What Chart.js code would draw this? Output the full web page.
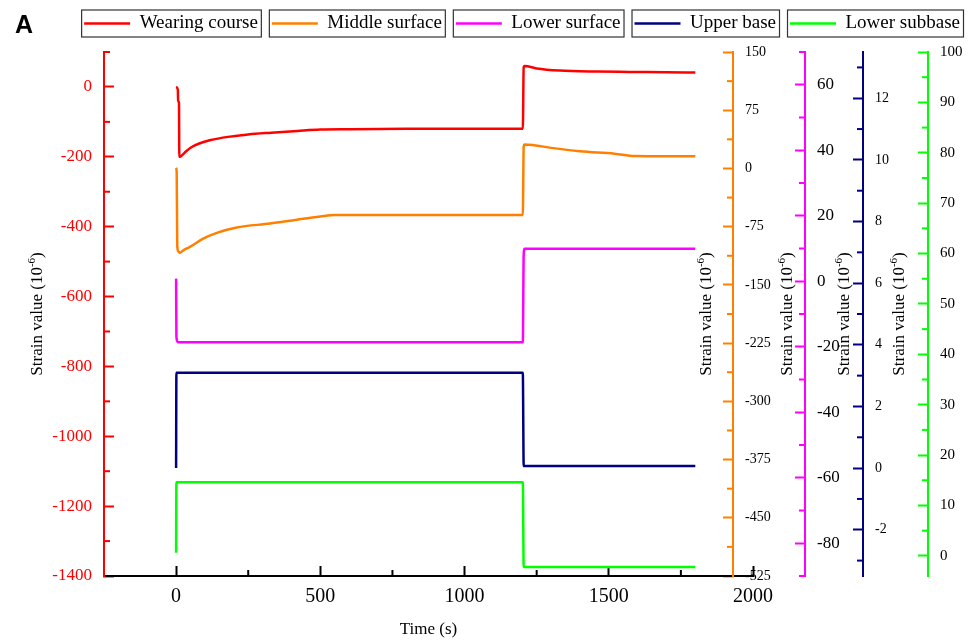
<!DOCTYPE html>
<html>
<head>
<meta charset="utf-8">
<script src="https://cdn.jsdelivr.net/npm/chart.js@4.4.0/dist/chart.umd.min.js"></script>
<style>
html, body { margin: 0; padding: 0; background: #fff; }
#wrap { width: 974px; height: 643px; }
</style>
</head>
<body>
<div id="wrap"><canvas id="chart"></canvas></div>
<script>
// time axis
const xTicks = [0, 500, 1000, 1500, 2000];
const xMinor = [250, 750, 1250, 1750];

// Wearing course (red, left axis)
const wearingT = [0, 6, 7, 10, 11, 14, 20, 35, 50, 80, 120, 180, 250, 330, 420, 500, 600, 800, 1000, 1202, 1205, 1208, 1250, 1330, 1460, 1570, 1700, 1800];
const wearingV = [0, -8, -40, -46, -200, -200, -196, -184, -174, -162, -152, -143, -136, -131, -126, -122, -121, -120, -120, -120, 56, 60, 53, 47, 44, 43, 42, 41];

// Middle surface (orange)
const middleT = [0, 2, 4, 8, 13, 25, 48, 94, 141, 210, 326, 420, 500, 550, 800, 1000, 1202, 1205, 1208, 1240, 1300, 1400, 1520, 1590, 1700, 1800];
const middleV = [1, -4.5, -100, -107, -108.5, -105.5, -101, -90.5, -83, -76, -71, -66, -62, -60, -60, -60, -60, 28, 31, 30, 26.5, 22, 19, 16, 15.7, 15.7];

// Lower surface (magenta)
const lowerSurfT = [0, 1, 6, 1202, 1205, 1208, 1800];
const lowerSurfV = [0.8, -17, -18.6, -18.6, 8, 9.9, 9.9];

// Upper base (navy)
const upperBaseT = [0, 1, 1202, 1205, 1800];
const upperBaseV = [0, 3.09, 3.09, 0.07, 0.07];

// Lower subbase (green)
const subbaseT = [0, 1, 1202, 1205, 1800];
const subbaseV = [0.6, 14.6, 14.6, -2.2, -2.2];

// axis ticks
const redTicks = [-1400, -1200, -1000, -800, -600, -400, -200, 0];
const redMinor = [-1300, -1100, -900, -700, -500, -300, -100, 100];
const orangeTicks = [-525, -450, -375, -300, -225, -150, -75, 0, 75, 150];
const orangeMinor = [-487.5, -412.5, -337.5, -262.5, -187.5, -112.5, -37.5, 37.5, 112.5];
const magentaTicks = [-80, -60, -40, -20, 0, 20, 40, 60];
const magentaMinor = [-90, -70, -50, -30, -10, 10, 30, 50, 70];
const navyTicks = [-2, 0, 2, 4, 6, 8, 10, 12];
const navyMinor = [-3, -1, 1, 3, 5, 7, 9, 11, 13];
const greenTicks = [0, 10, 20, 30, 40, 50, 60, 70, 80, 90, 100];
const greenMinor = [5, 15, 25, 35, 45, 55, 65, 75, 85, 95];

const RED = '#FF0000', ORANGE = '#FF8000', MAGENTA = '#FF00FF', NAVY = '#000080', GREEN = '#00FF00';
const serif = "'Liberation Serif', 'Times New Roman', serif";

function pts(t, v) { return t.map((x, i) => ({ x: x, y: v[i] })); }

function line(label, t, v, color, axis) {
    return {
        label: label, data: pts(t, v), yAxisID: axis,
        borderColor: color, backgroundColor: color, borderWidth: 2.5,
        pointRadius: 0, cubicInterpolationMode: 'monotone', borderJoinStyle: 'round'
    };
}

function yAxis(color, min, max, ticks, size, labelColor, pos, width) {
    return {
        type: 'linear', position: pos, min: min, max: max,
        afterBuildTicks: s => { s.ticks = ticks.map(v => ({ value: v })); },
        afterFit: s => { s.width = width; },
        border: { color: color, width: 2 },
        grid: { drawOnChartArea: false, tickLength: -10, tickWidth: 2, tickColor: color, color: color },
        ticks: { color: labelColor, padding: 22, font: { family: serif, size: size }, callback: v => String(v) }
    };
}

// minor ticks: [scale id, values, side]
const minorSets = [
    ['x', xMinor, 'bottom'], ['yRed', redMinor, 'left'], ['yOrange', orangeMinor, 'right'],
    ['yMag', magentaMinor, 'right'], ['yNavy', navyMinor, 'right'], ['yGreen', greenMinor, 'right']
];
// axis title centre, offset from the axis line
const titleSets = [['yRed', -66], ['yOrange', -26], ['yMag', -17], ['yNavy', -18], ['yGreen', -28]];

function drawTitle(ctx, x, y) {
    const main = 'Strain value (10', sup = '-6', tail = ')';
    ctx.save();
    ctx.translate(x, y);
    ctx.rotate(-Math.PI / 2);
    ctx.font = '17px ' + serif;
    const w1 = ctx.measureText(main).width, w3 = ctx.measureText(tail).width;
    ctx.font = '11px ' + serif;
    const w2 = ctx.measureText(sup).width;
    let cx = -(w1 + w2 + w3) / 2;
    ctx.fillStyle = '#000';
    ctx.textBaseline = 'middle';
    ctx.textAlign = 'left';
    ctx.font = '17px ' + serif; ctx.fillText(main, cx, 0); cx += w1;
    ctx.font = '11px ' + serif; ctx.fillText(sup, cx, -6); cx += w2;
    ctx.font = '17px ' + serif; ctx.fillText(tail, cx, 0);
    ctx.restore();
}

const legendSpace = {
    id: 'legendSpace',
    beforeInit(chart) {
        const fit = chart.legend.fit;
        chart.legend.fit = function() { fit.call(this); this.height += 9; };
    }
};

const decor = {
    id: 'decor',
    afterLayout(chart) {
        // orange axis sits a little inside the plot, like in the original
        const s = chart.scales.yOrange;
        s.left -= 20; s.right -= 20;
    },
    afterDraw(chart) {
        const ctx = chart.ctx;
        ctx.save();
        minorSets.forEach(([id, vals, side]) => {
            const s = chart.scales[id];
            ctx.strokeStyle = s.options.border.color;
            ctx.lineWidth = 2;
            vals.forEach(v => {
                const p = s.getPixelForValue(v);
                ctx.beginPath();
                if (side === 'bottom') { ctx.moveTo(p, s.top); ctx.lineTo(p, s.top - 6); }
                else if (side === 'left') { ctx.moveTo(s.right, p); ctx.lineTo(s.right + 6, p); }
                else { ctx.moveTo(s.left, p); ctx.lineTo(s.left - 6, p); }
                ctx.stroke();
            });
        });
        const ca = chart.chartArea;
        titleSets.forEach(([id, off]) => {
            const s = chart.scales[id];
            const base = s.position === 'left' ? s.right : s.left;
            drawTitle(ctx, base + off, (ca.top + ca.bottom) / 2);
        });
        // frames round the legend items
        ctx.strokeStyle = '#333';
        ctx.lineWidth = 1.2;
        chart.legend.legendHitBoxes.forEach(hb => {
            const cy = hb.top + hb.height / 2;
            ctx.strokeRect(hb.left - 2.5, cy - 13.5, hb.width + 6, 27);
        });
        ctx.fillStyle = '#000';
        ctx.font = 'bold 25px "Liberation Sans", Arial, sans-serif';
        ctx.textBaseline = 'alphabetic';
        ctx.textAlign = 'left';
        ctx.fillText('A', 15, 33);
        ctx.restore();
    }
};

new Chart(document.getElementById('chart'), {
    type: 'line',
    data: {
        datasets: [
            line('Wearing course', wearingT, wearingV, RED, 'yRed'),
            line('Middle surface', middleT, middleV, ORANGE, 'yOrange'),
            line('Lower surface', lowerSurfT, lowerSurfV, MAGENTA, 'yMag'),
            line('Upper base', upperBaseT, upperBaseV, NAVY, 'yNavy'),
            line('Lower subbase', subbaseT, subbaseV, GREEN, 'yGreen')
        ]
    },
    options: {
        responsive: true, maintainAspectRatio: false, animation: false, devicePixelRatio: 1,
        layout: { padding: 0 },
        plugins: {
            tooltip: { enabled: false },
            legend: {
                position: 'top', align: 'end',
                labels: {
                    usePointStyle: true, pointStyle: 'line', pointStyleWidth: 46, padding: 14,
                    color: '#000', font: { family: serif, size: 19 }
                }
            }
        },
        scales: {
            x: {
                type: 'linear', position: 'bottom', min: -250, max: 2000,
                afterBuildTicks: s => { s.ticks = xTicks.map(v => ({ value: v })); },
                afterFit: s => { s.height = 67; },
                border: { color: '#000', width: 2 },
                grid: { drawOnChartArea: false, tickLength: -10, tickWidth: 2, tickColor: '#000' },
                ticks: { color: '#000', padding: 19, maxRotation: 0, font: { family: serif, size: 20 }, callback: v => String(v) },
                title: { display: true, text: 'Time (s)', color: '#000', padding: { top: 0, bottom: 3 }, font: { family: serif, size: 17 } }
            },
            yRed: yAxis(RED, -1400, 100, redTicks, 17, RED, 'left', 104),
            yOrange: yAxis(ORANGE, -525, 150, orangeTicks, 14, '#000', 'right', 52),
            yMag: yAxis(MAGENTA, -90, 70, magentaTicks, 17, '#000', 'right', 58),
            yNavy: yAxis(NAVY, -3.5, 13.5, navyTicks, 14, '#000', 'right', 65),
            yGreen: yAxis(GREEN, -4, 100, greenTicks, 15, '#000', 'right', 46)
        }
    },
    plugins: [legendSpace, decor]
});
</script>
</body>
</html>
